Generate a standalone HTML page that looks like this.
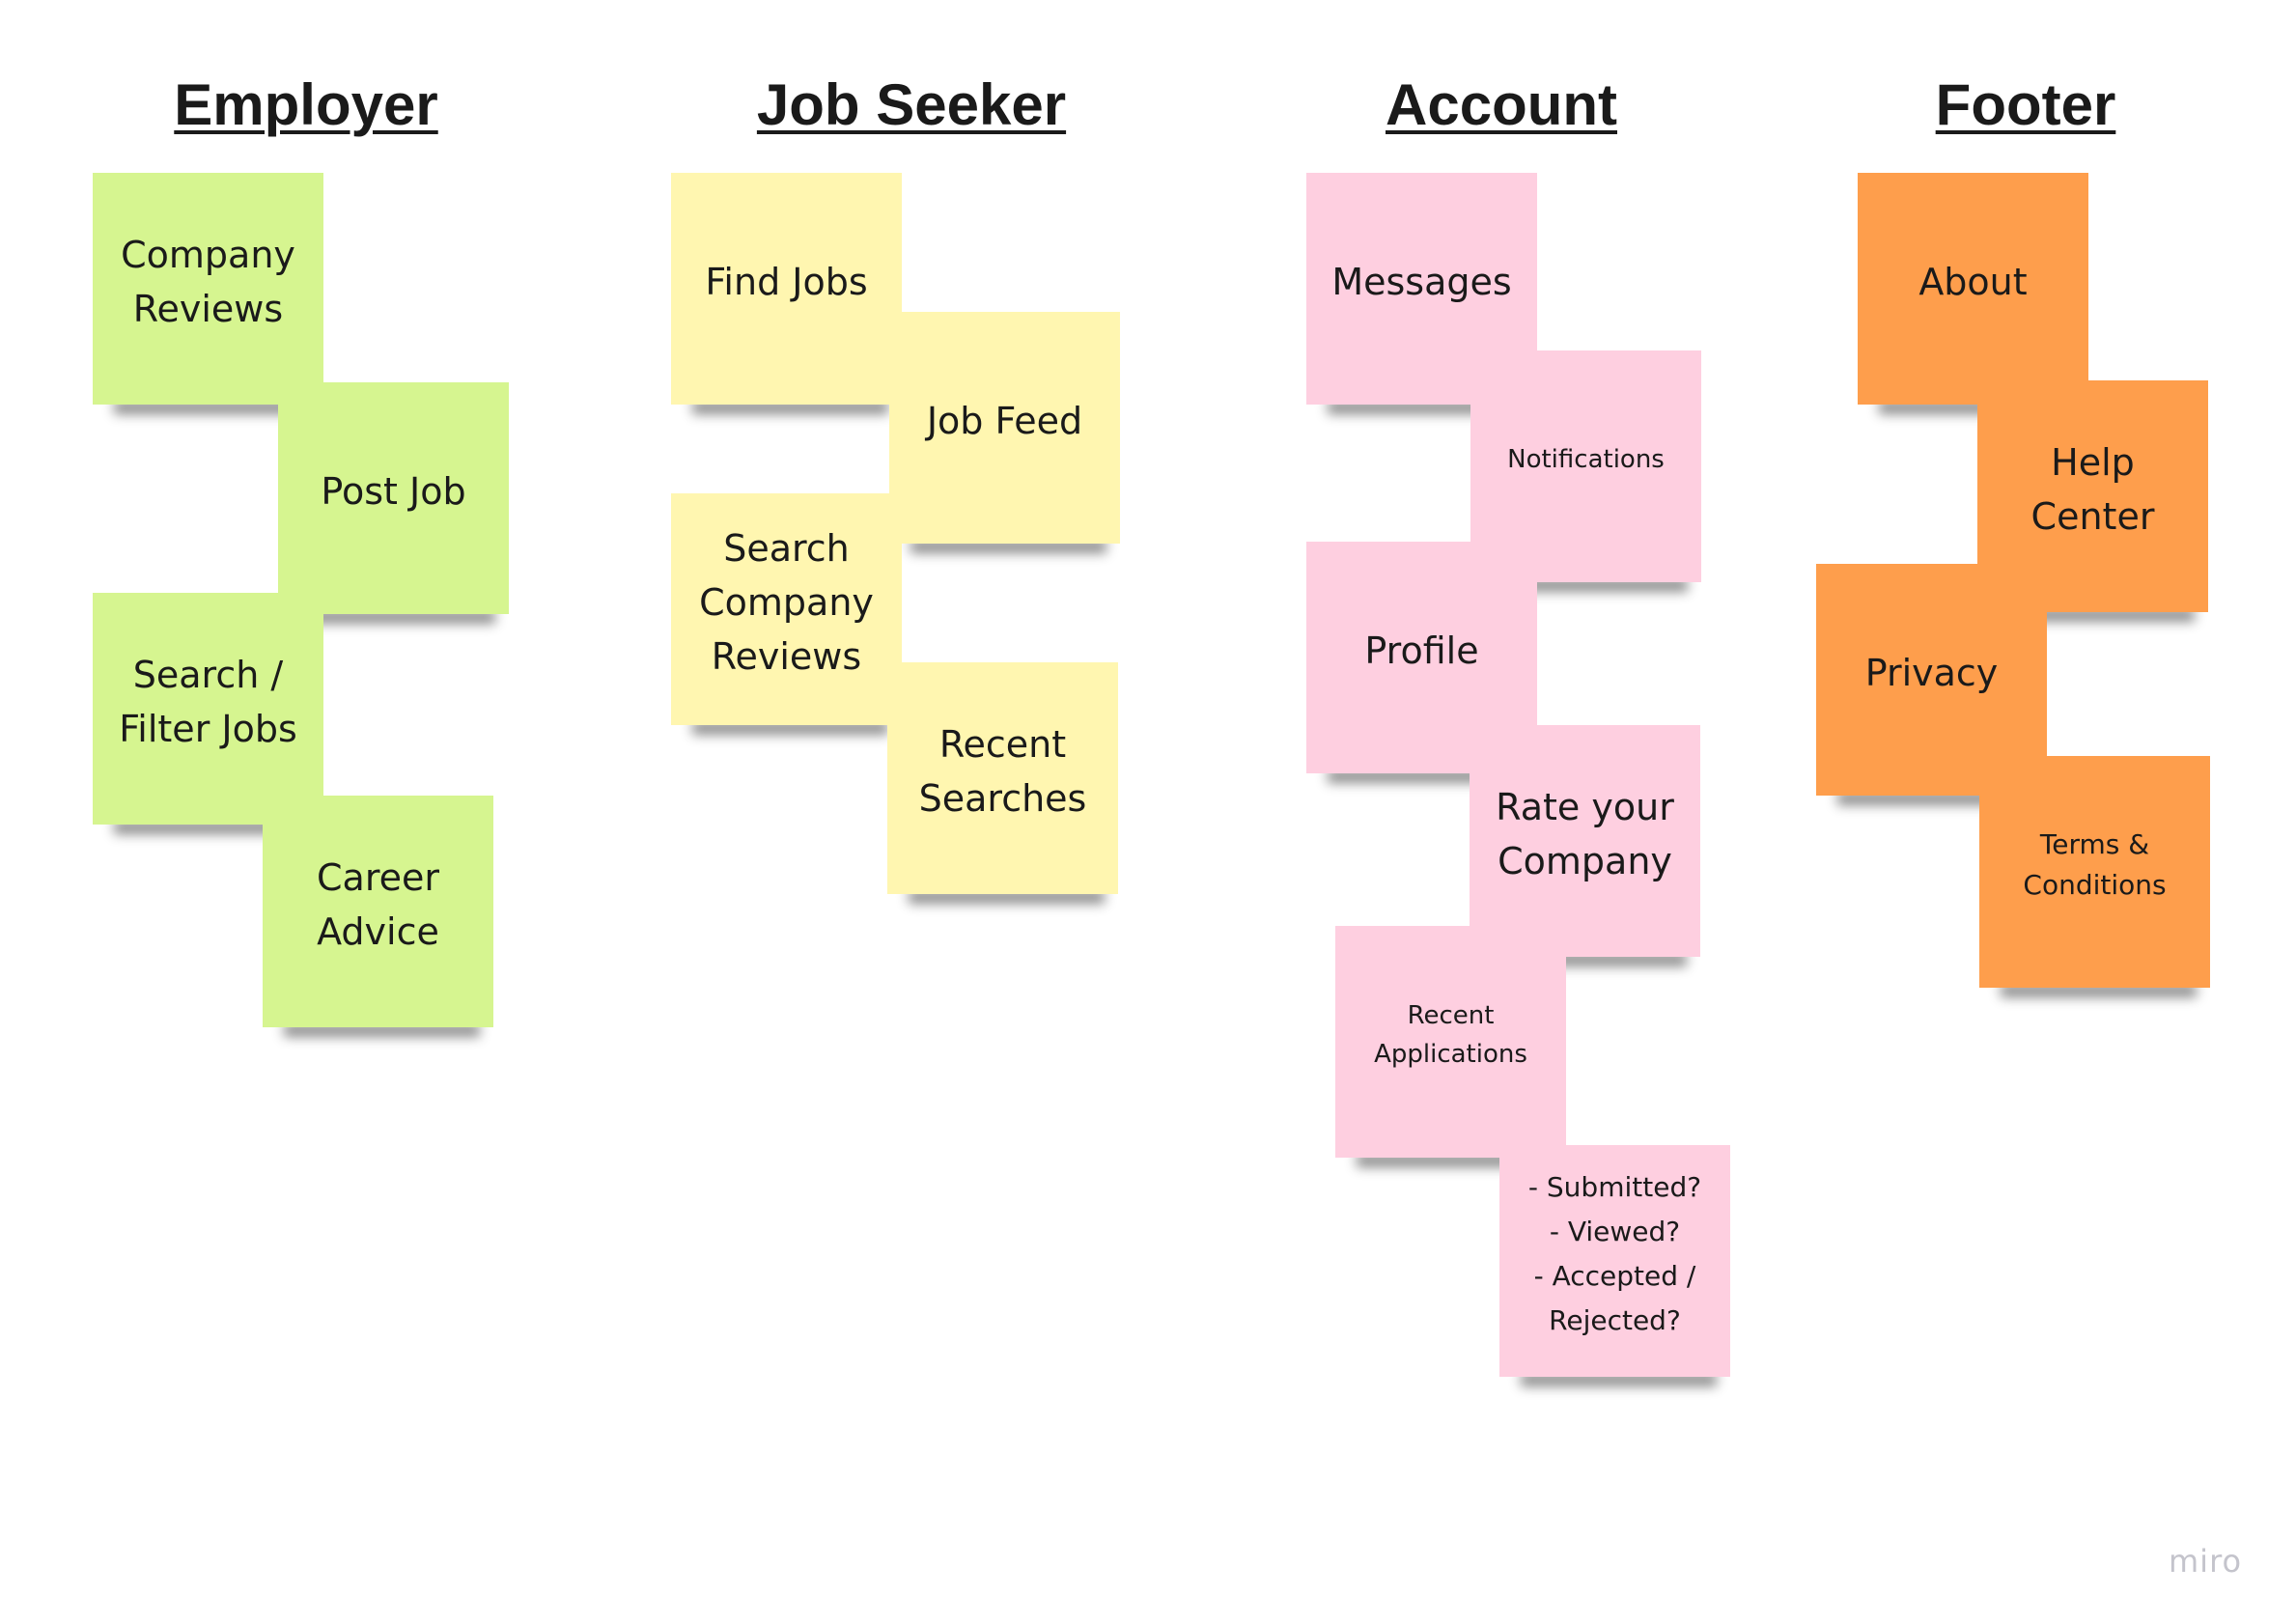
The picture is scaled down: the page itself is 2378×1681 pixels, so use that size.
<!DOCTYPE html>
<html><head><meta charset="utf-8"><style>
body{margin:0;width:2378px;height:1681px;background:#fff;position:relative;overflow:hidden;font-family:"DejaVu Sans","Liberation Sans",sans-serif;}
.h{position:absolute;top:73px;width:600px;margin-left:-300px;text-align:center;font:bold 60px "Liberation Sans",sans-serif;color:#1a1a1a;text-decoration:underline;text-decoration-thickness:4px;text-underline-offset:6px;line-height:72px;}
.n{position:absolute;width:239px;height:240px;display:flex;align-items:center;justify-content:center;text-align:center;color:#1a1a1a;font-size:38px;line-height:56px;box-sizing:border-box;padding:0 10px 14px;}
.n::before{content:"";position:absolute;left:22px;right:14px;bottom:2px;height:14px;box-shadow:0 12px 12px rgba(0,0,0,.45);z-index:-1;}
.n span{position:relative}
.g{background:#d6f590}.y{background:#fff6b0}.p{background:#fecfe0}.o{background:#fe9e4c}
.s{font-size:26px;line-height:40px}
.t{font-size:28px;line-height:42px}
.m{font-size:28px;line-height:46px}
</style></head><body>
<div class="h" style="left:317px">Employer</div>
<div class="h" style="left:944px">Job Seeker</div>
<div class="h" style="left:1555px">Account</div>
<div class="h" style="left:2098px">Footer</div>

<div class="n g" style="left:96px;top:179px"><span>Company<br>Reviews</span></div>
<div class="n g" style="left:288px;top:396px"><span>Post Job</span></div>
<div class="n g" style="left:96px;top:614px"><span>Search /<br>Filter Jobs</span></div>
<div class="n g" style="left:272px;top:824px"><span>Career<br>Advice</span></div>

<div class="n y" style="left:695px;top:179px"><span>Find Jobs</span></div>
<div class="n y" style="left:921px;top:323px"><span>Job Feed</span></div>
<div class="n y" style="left:695px;top:511px"><span>Search<br>Company<br>Reviews</span></div>
<div class="n y" style="left:919px;top:686px"><span>Recent<br>Searches</span></div>

<div class="n p" style="left:1353px;top:179px"><span>Messages</span></div>
<div class="n p s" style="left:1523px;top:363px"><span>Notifications</span></div>
<div class="n p" style="left:1353px;top:561px"><span>Profile</span></div>
<div class="n p" style="left:1522px;top:751px"><span>Rate your<br>Company</span></div>
<div class="n p s" style="left:1383px;top:959px"><span>Recent<br>Applications</span></div>
<div class="n p m" style="left:1553px;top:1186px"><span>- Submitted?<br>- Viewed?<br>- Accepted /<br>Rejected?</span></div>

<div class="n o" style="left:1924px;top:179px"><span>About</span></div>
<div class="n o" style="left:2048px;top:394px"><span>Help<br>Center</span></div>
<div class="n o" style="left:1881px;top:584px"><span>Privacy</span></div>
<div class="n o t" style="left:2050px;top:783px"><span>Terms &amp;<br>Conditions</span></div>

<div style="position:absolute;left:2246px;top:1598px;font:32px 'DejaVu Sans',sans-serif;color:#c4c4cc;letter-spacing:1px">miro</div>
</body></html>
